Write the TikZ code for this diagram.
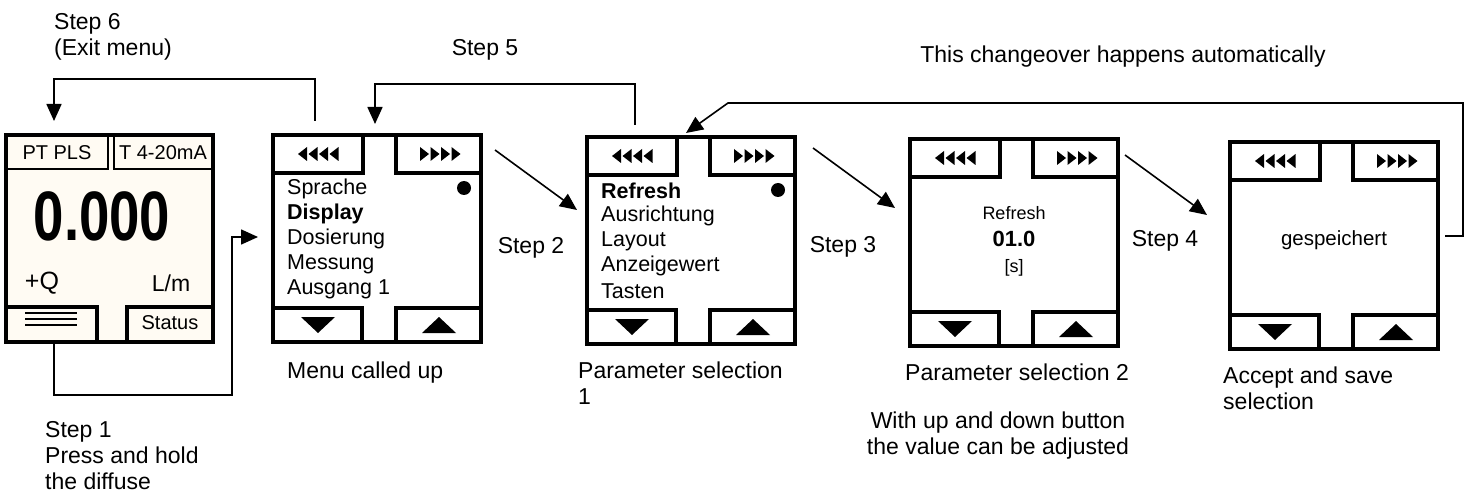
\documentclass[tikz,border=0pt]{standalone}
\usepackage{fontspec}
\setmainfont{Liberation Sans}
\usepackage{graphicx}
\usetikzlibrary{arrows.meta}

\definecolor{cream}{RGB}{255,251,243}

\tikzset{
  lbl/.style={font=\fontsize{23}{26}\selectfont, inner sep=0pt},
  item/.style={font=\fontsize{21.5}{25}\selectfont, anchor=west, inner sep=0pt},
  heavy/.style={line width=3.7pt},
  thinbox/.style={line width=1.2pt},
  conn/.style={line width=1.6pt},
  arr/.style={conn, -{Triangle[length=17pt,width=15pt]}},
  menuframe/.pic={
    \draw[heavy, fill=white] (0,0) rectangle (208,207);
    \draw[heavy] (0,0) rectangle (90,38);
    \draw[heavy] (123,0) rectangle (208,38);
    \draw[heavy] (0,173) rectangle (89,207);
    \draw[heavy] (123,173) rectangle (208,207);
    \foreach \i in {0,...,3} {
      \fill ({25+10.5*\i},19) -- ({34+10.5*\i},12) -- ({34+10.5*\i},26) -- cycle;
      \fill ({156+10.5*\i},19) -- ({147+10.5*\i},12) -- ({147+10.5*\i},26) -- cycle;
    }
    \fill (28,182) -- (62,182) -- (45,198) -- cycle;
    \fill (149,198) -- (183,198) -- (166,182) -- cycle;
  }
}

\begin{document}
\begin{tikzpicture}[x=1pt,y=-1pt]
\useasboundingbox[fill=white] (0,0) rectangle (1469,497);

% ---- main measuring display ----
\fill[cream] (6,135) rectangle (213,342);
\draw[thinbox] (6,135) rectangle (108,169);
\draw[thinbox] (114,135) rectangle (213,169);
\draw[heavy] (6,307) rectangle (97,342);
\draw[heavy] (127,307) rectangle (213,342);
\draw[heavy] (6,135) rectangle (213,342);
\foreach \yy in {313,319,325} \draw[line width=1.3pt] (25,\yy) -- (77,\yy);
\node[font=\fontsize{20}{20}\selectfont] (pt) at (57,153) {PT PLS};
\node[font=\fontsize{20}{20}\selectfont] (rng) at (163,153) {T 4-20mA};
\node[font=\fontsize{70}{70}\selectfont\bfseries] (val) at (102,216) {\scalebox{0.78}[1]{0.000}};
\node[font=\fontsize{25}{25}\selectfont, inner sep=0pt] (sign) at (42,283) {+Q};
\node[lbl] (unit) at (171,283) {L/m};
\node[font=\fontsize{20}{20}\selectfont] (st) at (170,323) {Status};

% ---- menu display ----
\begin{scope}[shift={(273,135)}]
  \pic {menuframe};
  \node[item] (m1) at (14,54) {Sprache};
  \node[item] (m2) at (14,79) {\bfseries Display};
  \node[item] (m3) at (14,104) {Dosierung};
  \node[item] (m4) at (14,129) {Messung};
  \node[item] (m5) at (14,154) {Ausgang 1};
  \fill (191,53) circle (7);
\end{scope}

% ---- parameter list ----
\begin{scope}[shift={(587,137)}]
  \pic {menuframe};
  \node[item] (p1) at (14,54) {\bfseries Refresh};
  \node[item] (p2) at (14,79) {Ausrichtung};
  \node[item] (p3) at (14,104) {Layout};
  \node[item] (p4) at (14,129) {Anzeigewert};
  \node[item] (p5) at (14,154) {Tasten};
  \fill (191,53) circle (7);
\end{scope}

% ---- value editor ----
\begin{scope}[shift={(910,139)}]
  \pic {menuframe};
  \node[font=\fontsize{18}{18}\selectfont] (v1) at (104,74) {Refresh};
  \node[font=\fontsize{22}{22}\selectfont\bfseries] (v2) at (104,100) {01.0};
  \node[font=\fontsize{18}{18}\selectfont] (v3) at (104,129) {[s]};
\end{scope}

% ---- saved confirmation ----
\begin{scope}[shift={(1230,142)}]
  \pic {menuframe};
  \node[font=\fontsize{20.5}{20.5}\selectfont] (sv) at (104,98) {gespeichert};
\end{scope}

% ---- connector end points ----
\coordinate (c1a) at (54,342);
\coordinate (c1b) at (232,237);
\coordinate (c1c) at (258,237);
\coordinate (c2a) at (495,150);
\coordinate (c2b) at (577,210);
\coordinate (c3a) at (813,148);
\coordinate (c3b) at (895,208);
\coordinate (c4a) at (1125,155);
\coordinate (c4b) at (1207,215);
\coordinate (c5a) at (635,125);
\coordinate (c5b) at (375,124);
\coordinate (c6a) at (315,121);
\coordinate (c6b) at (54,121);
\coordinate (caa) at (1445,236);
\coordinate (cab) at (728,103);
\coordinate (cac) at (686,133);

% ---- connectors ----
\draw[arr] (c1a) -- ++(0,53) -| (c1b) -- (c1c);
\draw[arr] (c2a) -- (c2b);
\draw[arr] (c3a) -- (c3b);
\draw[arr] (c4a) -- (c4b);
\draw[arr] (c5a) -- ++(0,-41) -| (c5b);
\draw[arr] (c6a) -- ++(0,-42) -| (c6b);
\draw[arr] (caa) -- ++(18,0) |- (cab) -- (cac);

% ---- labels ----
\node[lbl, anchor=north west, align=left] (t6) at (54,13) {Step 6\\(Exit menu)};
\node[lbl] (t5) at (485,50) {Step 5};
\node[lbl] (tauto) at (1123,57) {This changeover happens automatically};
\node[lbl] (t2) at (531,248) {Step 2};
\node[lbl] (t3) at (843,247) {Step 3};
\node[lbl] (t4) at (1165,241) {Step 4};
\node[lbl, anchor=west] (l2) at (287,373) {Menu called up};
\node[lbl, anchor=north west, align=left] (l3) at (578,362) {Parameter selection\\1};
\node[lbl, anchor=west] (l4) at (905,372) {Parameter selection 2};
\node[lbl, anchor=north, align=center] (l4b) at (998,412) {With up and down button\\the value can be adjusted};
\node[lbl, anchor=north west, align=left] (l5) at (1223,367) {Accept and save\\selection};
\node[lbl, anchor=north west, align=left] (t1) at (45,421) {Step 1\\Press and hold\\the diffuse};
\end{tikzpicture}
\end{document}
